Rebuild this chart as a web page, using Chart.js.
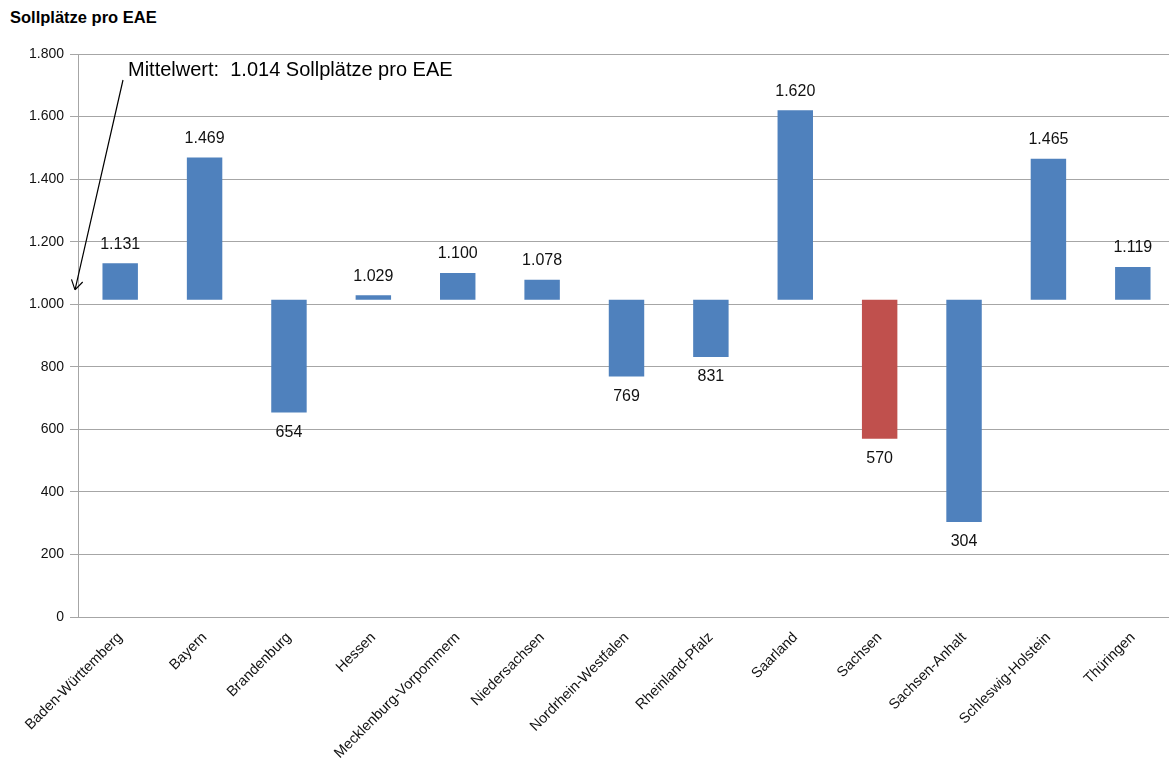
<!DOCTYPE html>
<html lang="de">
<head>
  <meta charset="UTF-8" />
  <title>Sollplätze pro EAE</title>
  <script src="https://cdn.jsdelivr.net/npm/chart.js"></script>
  <style>
    body {
      margin: 0;
      padding: 0;
      background: #fff;
      overflow: hidden;
      font-family: "Liberation Sans", Arial, sans-serif;
    }

    .titel {
      position: absolute;
      left: 10px;
      top: 8px;
      font-size: 16.5px;
      font-weight: bold;
      color: #000;
    }

    .chart-wrapper {
      width: 1175px;
      height: 760px;
      position: relative;
    }
  </style>
</head>
<body>

  <div class="titel">Sollplätze pro EAE</div>
  <div class="chart-wrapper">
    <canvas id="chartEAE"></canvas>
  </div>

  <script>
    const laender = ['Baden-Württemberg', 'Bayern', 'Brandenburg', 'Hessen', 'Mecklenburg-Vorpommern',
      'Niedersachsen', 'Nordrhein-Westfalen', 'Rheinland-Pfalz', 'Saarland', 'Sachsen',
      'Sachsen-Anhalt', 'Schleswig-Holstein', 'Thüringen'];
    const sollplaetze = [1131, 1469, 654, 1029, 1100, 1078, 769, 831, 1620, 570, 304, 1465, 1119];
    const mittelwert = 1014;
    const hervorgehoben = 'Sachsen';

    const blau = '#4f81bd';
    const rot = '#c0504d';

    // Zahlen mit Tausenderpunkt
    const fmt = v => String(Math.round(v)).replace(/\B(?=(\d{3})+(?!\d))/g, '.');

    // Balken schweben vom Mittelwert bis zum jeweiligen Wert
    const balken = sollplaetze.map(v => [mittelwert, v]);
    const farben = laender.map(l => l === hervorgehoben ? rot : blau);

    // Werte über bzw. unter den Balken
    const wertLabels = {
      id: 'wertLabels',
      afterDatasetsDraw(chart) {
        const { ctx } = chart;
        const meta = chart.getDatasetMeta(0);
        const y = chart.scales.y;
        ctx.save();
        ctx.font = '16px "Liberation Sans", Arial, sans-serif';
        ctx.fillStyle = '#111';
        ctx.textAlign = 'center';
        ctx.textBaseline = 'middle';
        meta.data.forEach((bar, i) => {
          const v = sollplaetze[i];
          const py = y.getPixelForValue(v);
          const oben = v >= mittelwert;
          ctx.fillText(fmt(v), bar.x, oben ? py - 19 : py + 20);
        });
        ctx.restore();
      }
    };

    // Hinweis auf den Mittelwert mit Pfeil zur y-Achse
    const mittelwertHinweis = {
      id: 'mittelwertHinweis',
      afterDraw(chart) {
        const { ctx, chartArea } = chart;
        const y = chart.scales.y;
        const x0 = chartArea.left + 45, y0 = chartArea.top + 26;
        const x1 = chartArea.left - 3, y1 = y.getPixelForValue(mittelwert) - 10;
        ctx.save();
        ctx.strokeStyle = '#000';
        ctx.lineWidth = 1.2;
        ctx.beginPath();
        ctx.moveTo(x0, y0);
        ctx.lineTo(x1, y1);
        const w = Math.atan2(y1 - y0, x1 - x0);
        const k = 11;
        ctx.moveTo(x1, y1);
        ctx.lineTo(x1 - k * Math.cos(w - 0.55), y1 - k * Math.sin(w - 0.55));
        ctx.moveTo(x1, y1);
        ctx.lineTo(x1 - k * Math.cos(w + 0.55), y1 - k * Math.sin(w + 0.55));
        ctx.stroke();
        ctx.font = '20px "Liberation Sans", Arial, sans-serif';
        ctx.fillStyle = '#000';
        ctx.textBaseline = 'middle';
        ctx.fillText('Mittelwert:  ' + fmt(mittelwert) + ' Sollplätze pro EAE', chartArea.left + 50, chartArea.top + 16);
        ctx.restore();
      }
    };

    const chart = new Chart(document.getElementById('chartEAE'), {
      type: 'bar',
      data: {
        labels: laender,
        datasets: [{
          data: balken,
          backgroundColor: farben,
          borderWidth: 0,
          barPercentage: 0.42,
          categoryPercentage: 1
        }]
      },
      options: {
        responsive: true,
        maintainAspectRatio: false,
        animation: false,
        events: [],
        layout: { padding: { top: 54, right: 0, bottom: 0, left: 0 } },
        plugins: {
          legend: { display: false },
          tooltip: { enabled: false }
        },
        scales: {
          x: {
            grid: { display: false },
            border: { display: true, color: '#a6a6a6' },
            ticks: {
              color: '#111',
              font: { size: 14.5, family: '"Liberation Sans", Arial, sans-serif' },
              minRotation: 45,
              maxRotation: 45,
              autoSkip: false,
              padding: 4
            },
            afterFit: s => { s.height = 143; }
          },
          y: {
            min: 0,
            max: 1800,
            ticks: {
              stepSize: 200,
              color: '#111',
              padding: 6,
              font: { size: 14, family: '"Liberation Sans", Arial, sans-serif' },
              callback: v => fmt(v)
            },
            grid: { color: '#a6a6a6', tickLength: 8 },
            border: { color: '#a6a6a6' },
            afterFit: s => { s.width = 78; }
          }
        }
      },
      plugins: [wertLabels, mittelwertHinweis]
    });
  </script>
</body>
</html>
